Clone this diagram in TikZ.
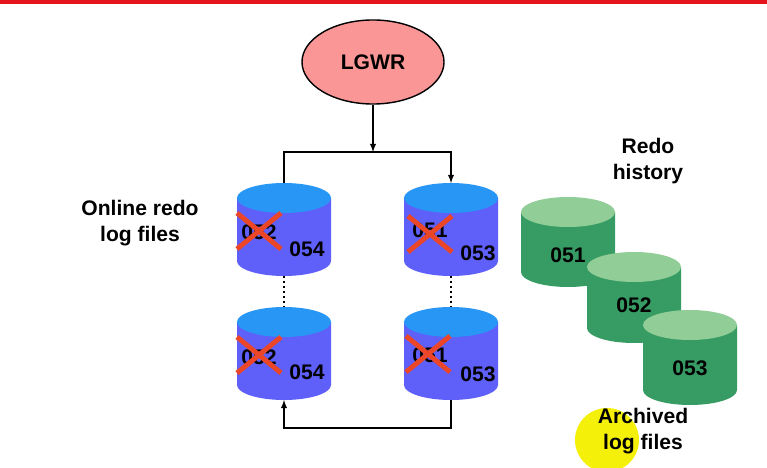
\documentclass[tikz,border=0pt]{standalone}
\usepackage{fontspec}
\setmainfont{Liberation Sans}
\usetikzlibrary{shapes.geometric}
\definecolor{tapaazul}{RGB}{40,150,245}
\definecolor{cuerpoazul}{RGB}{95,95,250}
\definecolor{tapaverde}{RGB}{145,205,150}
\definecolor{cuerpoverde}{RGB}{55,155,100}
\definecolor{rojox}{RGB}{235,70,40}
\definecolor{rojobarra}{RGB}{230,20,30}
\definecolor{rosa}{RGB}{250,150,150}
\definecolor{amarillo}{RGB}{245,240,10}
\begin{document}
\begin{tikzpicture}[x=0.025cm,y=0.025cm]
% estilos de linea y texto
\tikzstyle{linea} = [line width=1pt,black]
\tikzstyle{flecha} = [line width=1pt,-latex]
\tikzstyle{puntos} = [line width=1.5pt,dotted]
\tikzstyle{rotulo} = [font=\fontsize{15}{18.5}\selectfont\bfseries,align=center,inner sep=0pt]
% definicion cilindro
% #1: nombre del cilindro
% #2: centro de la tapa superior
% #3: altura del cuerpo
% #4: color de la tapa
% #5: color del cuerpo
\newcommand{\cilindro}[5]{
\coordinate (#1) at #2;
\fill [#5] (#1) ++(-47,0) -- ++(0,-#3)
arc [start angle=180,end angle=360,x radius=47,y radius=15] -- ++(0,#3) -- cycle;
\fill [#4] (#1) ellipse [x radius=47,y radius=15];
\path (#1) ++(0,15) coordinate (#1-n);
\path (#1) ++(0,-#3-15) coordinate (#1-s);
 }
% definicion cruz
% #1: centro de la cruz
\newcommand{\cruz}[1]{
\draw [rojox,line width=3.5pt] #1 ++(-22,-18) -- ++(44,36);
\draw [rojox,line width=3.5pt] #1 ++(-22,18) -- ++(44,-36);
 }
\useasboundingbox (0,0) rectangle (767,467);
% --------------------------------------
% barra superior y cursor
\fill [rojobarra] (0,463) rectangle (767,467);
\fill [amarillo] (607,27) circle (32);
% --------------------------------------
% proceso LGWR
\node [ellipse,draw,line width=1pt,fill=rosa,minimum width=3.55cm,minimum height=2.1cm,
rotulo] (lgwr) at (373,405) {LGWR};
% dibujar grupos en linea
\cilindro{g1a}{(284,269)}{63}{tapaazul}{cuerpoazul}
\cilindro{g2a}{(451,269)}{63}{tapaazul}{cuerpoazul}
\cilindro{g1b}{(284,145)}{63}{tapaazul}{cuerpoazul}
\cilindro{g2b}{(451,145)}{63}{tapaazul}{cuerpoazul}
\node [rotulo] (v1a) at (259,235) {052};
\node [rotulo] (v2a) at (430,237) {051};
\node [rotulo] (v1b) at (259,110) {052};
\node [rotulo] (v2b) at (430,112) {051};
\cruz{(259,236)}
\cruz{(430,233)}
\cruz{(259,112)}
\cruz{(428,113)}
\node [rotulo] (n1a) at (307,218) {054};
\node [rotulo] (n2a) at (478,214) {053};
\node [rotulo] (n1b) at (307,95) {054};
\node [rotulo] (n2b) at (478,93) {053};
% conectores
\coordinate (jun) at (373,315);
\coordinate (ret) at (373,39);
\draw [flecha] (lgwr) -- (jun);
\draw [flecha] (g1a-n) |- (jun) -| (g2a-n);
\draw [flecha] (g2b-s) |- (ret) -| (g1b-s);
\draw [puntos] (g1a-s) -- (g1b-n);
\draw [puntos] (g2a-s) -- (g2b-n);
% dibujar archivos archivados
\cilindro{h1}{(568,255)}{60}{tapaverde}{cuerpoverde}
\node [rotulo] (a1) at (568,212) {051};
\cilindro{h2}{(634,200)}{61}{tapaverde}{cuerpoverde}
\node [rotulo] (a2) at (634,162) {052};
\cilindro{h3}{(690,142)}{65}{tapaverde}{cuerpoverde}
\node [rotulo] (a3) at (690,99) {053};
% rotulos
\node [rotulo] (online) at (140,244) {Online redo\\log files};
\node [rotulo] (historia) at (648,306) {Redo\\history};
\node [rotulo] (archivo) at (643,36) {Archived\\log files};
% --------------------------------------
\end{tikzpicture}
\end{document}
